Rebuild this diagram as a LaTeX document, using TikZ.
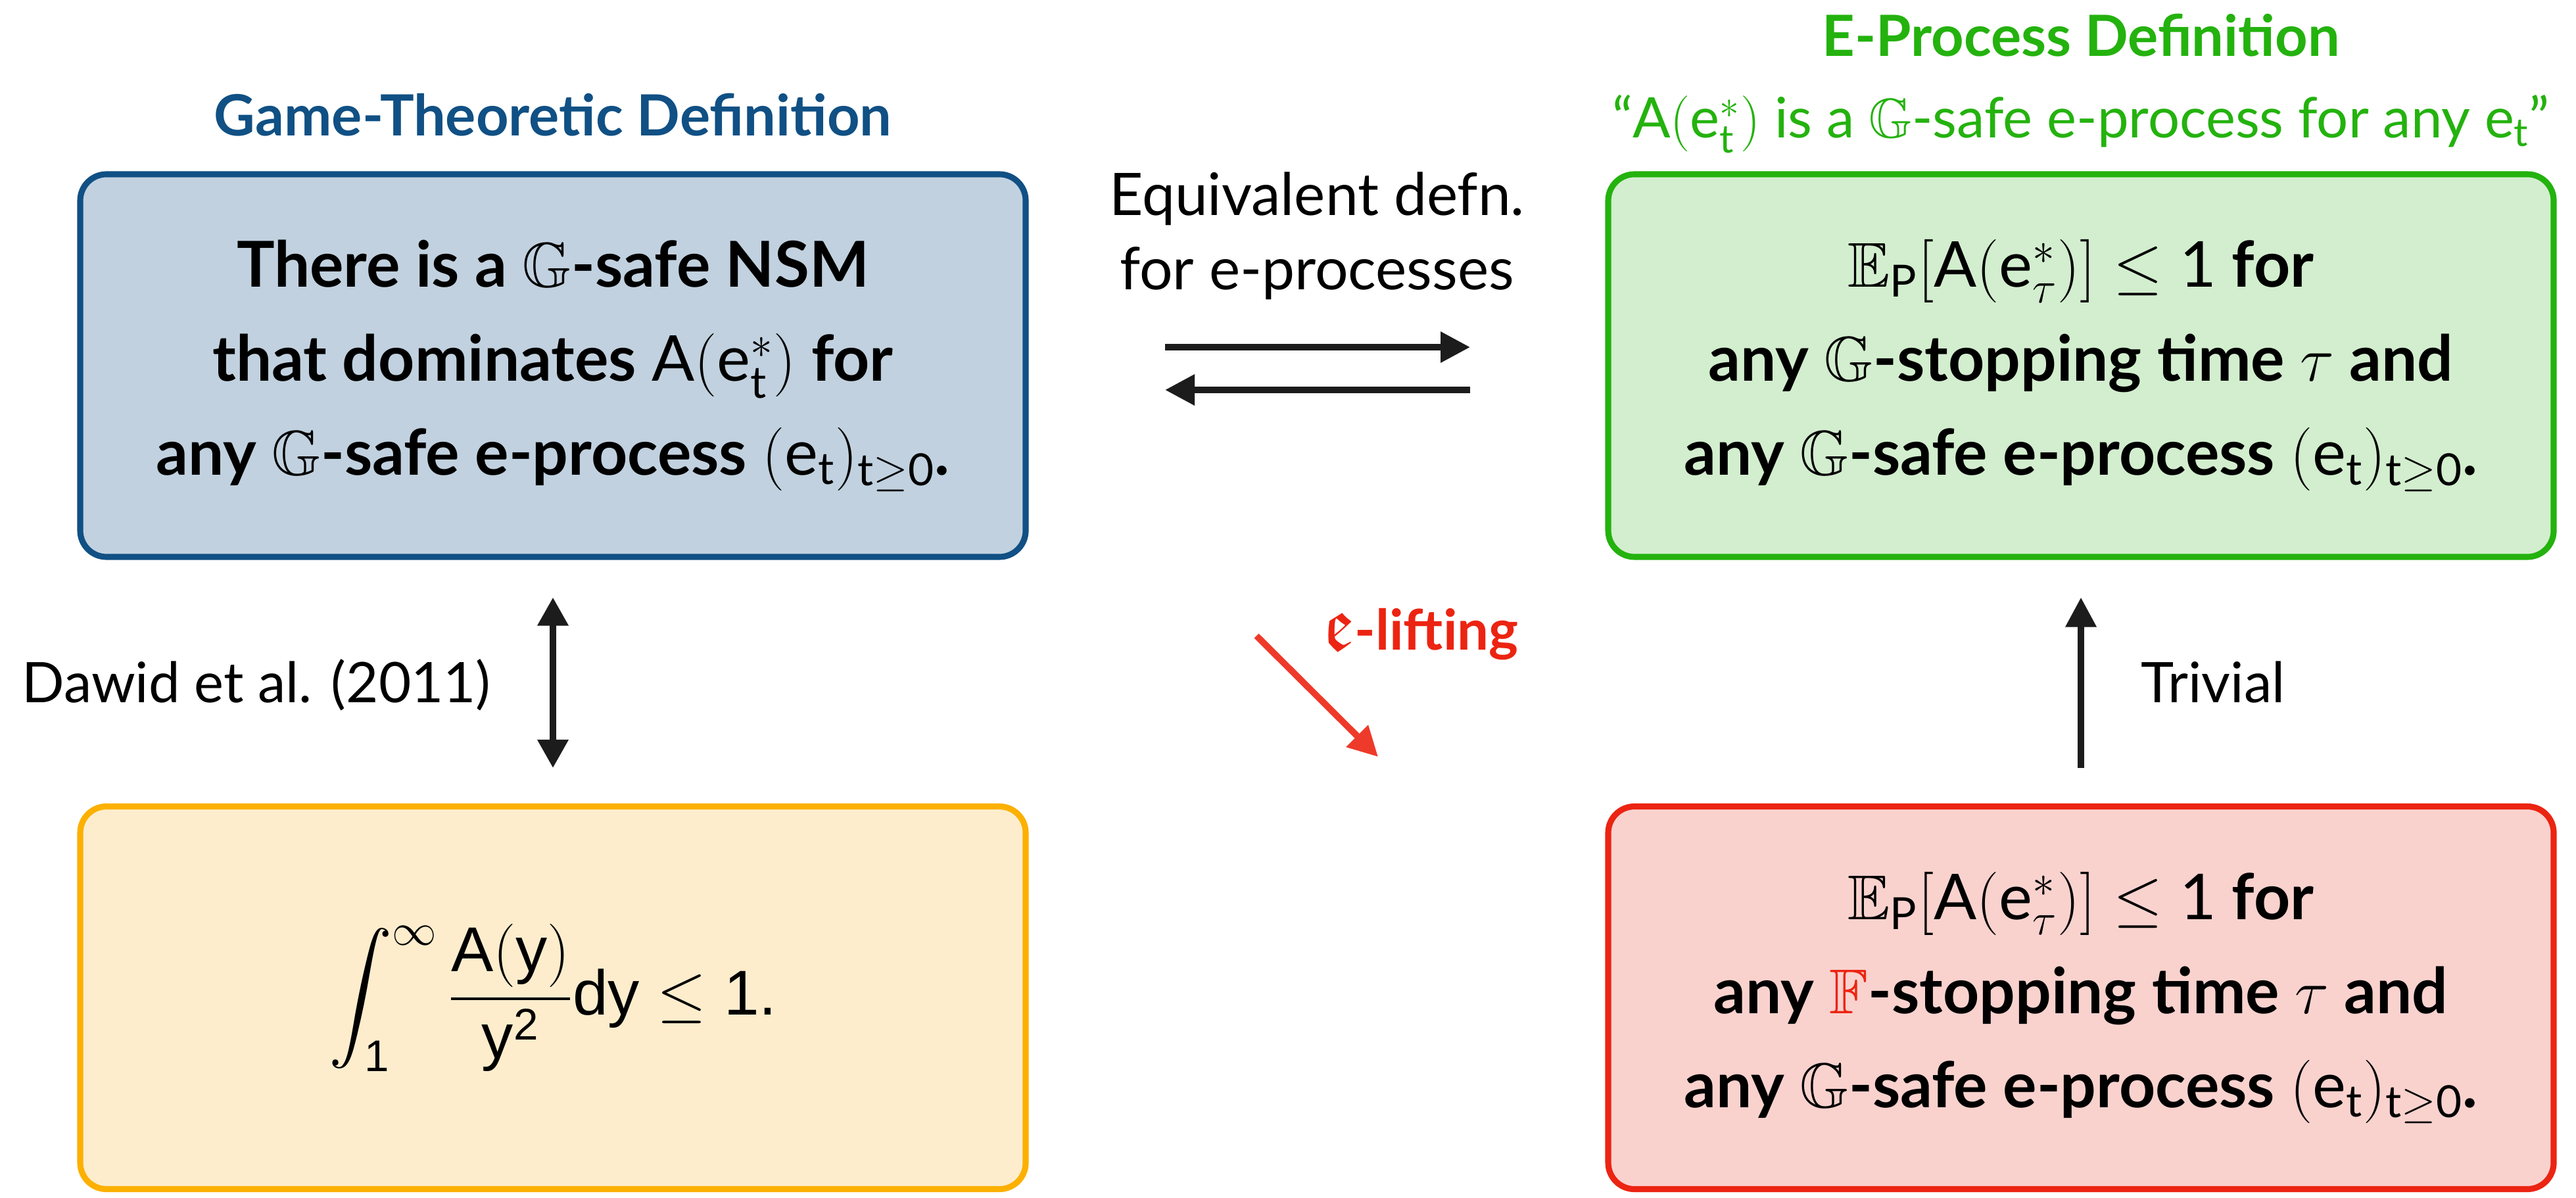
\RequirePackage{fix-cm}
\documentclass[tikz,border=0pt]{standalone}
\usepackage{amsmath,amssymb}
\usepackage{fontspec}
\setmainfont{Lato}
\newfontfamily\helv{Liberation Sans}
\usetikzlibrary{arrows.meta}

\definecolor{gtblue}{RGB}{16,80,132}
\definecolor{gtfill}{RGB}{193,209,223}
\definecolor{epgreen}{RGB}{36,178,14}
\definecolor{epfill}{RGB}{210,238,206}
\definecolor{dwyellow}{RGB}{252,176,0}
\definecolor{dwfill}{RGB}{253,237,205}
\definecolor{liftred}{RGB}{236,36,18}
\definecolor{liftfill}{RGB}{249,210,206}
\definecolor{arrowblack}{RGB}{28,28,28}

\newcommand{\Aest}[1]{\mathrm{A}(\mathrm{e}^*_{#1})}
\newcommand{\etseq}{(\mathrm{e}_\mathrm{t})_{\mathrm{t}\geq\mathrm{0}}}
\newcommand{\hv}[1]{\text{\helv\mdseries #1}}

\tikzset{
  defbox/.style={rounded corners=0.4cm, line width=2.6pt, align=center,
    minimum width=14.38cm, minimum height=5.82cm,
    font=\fontsize{27.4}{40.7}\selectfont\bfseries},
  heading/.style={anchor=base, font=\fontsize{24.6}{28}\selectfont\bfseries},
  remark/.style={anchor=base, font=\fontsize{24.2}{32}\selectfont},
  bigarrow/.style={draw=arrowblack, line width=2.8pt,
    -{Triangle[length=4.5mm,width=4.5mm]}},
}

\begin{document}
\begin{tikzpicture}
  \useasboundingbox (0,0) rectangle (39.18,-18.22);

  \node[defbox, draw=gtblue, fill=gtfill] (gt) at (8.41,-5.56)
    {There is a $\mathbb{G}$-safe NSM\\
     that dominates $\Aest{\mathrm{t}}$ for\\
     any $\mathbb{G}$-safe e-process $\etseq$.};
  \node[defbox, draw=epgreen, fill=epfill] (ep) at (31.65,-5.56)
    {$\mathbb{E}_\mathrm{P}[\Aest{\tau}]\leq\mathrm{1}$ for\\
     any $\mathbb{G}$-stopping time $\tau$ and\\
     any $\mathbb{G}$-safe e-process $\etseq$.};
  \node[defbox, draw=dwyellow, fill=dwfill, font=\fontsize{27.4}{40.7}\selectfont] (dw) at (8.41,-15.175)
    {$\displaystyle\int_{\hv{1}}^{\infty}\frac{\hv{A}(\hv{y})}{\hv{y}^{\hv{2}}}\hv{dy}\leq\hv{1.}$};
  \node[defbox, draw=liftred, fill=liftfill] (lf) at (31.65,-15.175)
    {$\mathbb{E}_\mathrm{P}[\Aest{\tau}]\leq\mathrm{1}$ for\\
     any {\color{liftred}$\mathbb{F}$}-stopping time $\tau$ and\\
     any $\mathbb{G}$-safe e-process $\etseq$.};

  % titles
  \node[heading, text=gtblue] (gttitle) at (8.41,-2.07) {Game-Theoretic Definition};
  \node[heading, text=epgreen] (eptitle) at (31.65,-0.86) {E-Process Definition};
  \node[remark, text=epgreen] (epquote) at (31.65,-2.10)
    {“$\Aest{\mathrm{t}}$ is a $\mathbb{G}$-safe e-process for any $\mathrm{e}_\mathrm{t}$”};

  % labels
  \node[remark, align=center, font=\fontsize{25.4}{31.9}\selectfont] (equiv) at (20.03,-4.40)
    {Equivalent defn.\\ for e-processes};
  \node[remark] (dawid) at (3.90,-10.68) {Dawid et al. (2011)};
  \node[remark] (trivial) at (33.66,-10.68) {Trivial};
  \node[remark, text=liftred, font=\fontsize{24.2}{32}\selectfont\bfseries] (lifting) at (21.61,-9.88)
    {{\fontsize{34}{36}\selectfont$\mathfrak{e}$}-lifting};

  \coordinate (eqa) at (17.72,-5.28);
  \coordinate (eqb) at (22.36,-5.28);
  \coordinate (eqc) at (22.36,-5.93);
  \coordinate (eqd) at (17.72,-5.93);
  \coordinate (lfa) at (19.11,-9.67);
  \coordinate (lfb) at (20.96,-11.51);

  \draw[bigarrow] (eqa) -- (eqb);
  \draw[bigarrow] (eqc) -- (eqd);
  \draw[bigarrow, {Triangle[length=4.3mm,width=4.5mm]}-{Triangle[length=4.3mm,width=4.5mm]},
    shorten <=0.57cm, shorten >=0.54cm] (gt.south) -- (dw.north);
  \draw[bigarrow, shorten <=0.54cm, shorten >=0.57cm] (lf.north) -- (ep.south);
  \draw[bigarrow, draw=liftred!90!white] (lfa) -- (lfb);
\end{tikzpicture}
\end{document}
